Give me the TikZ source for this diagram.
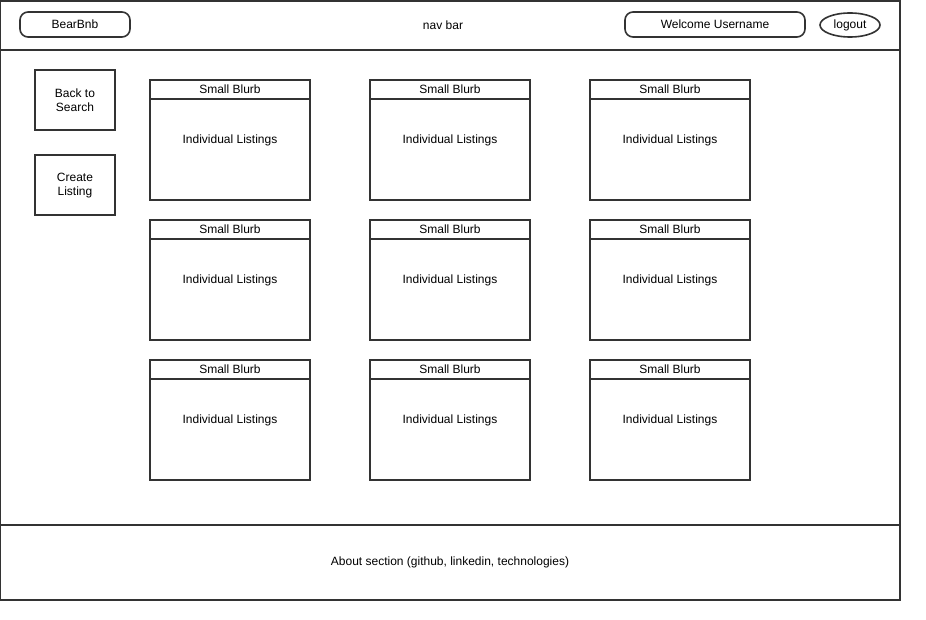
\documentclass[tikz,border=0pt]{standalone}
\usepackage{fontspec}
\setmainfont{Liberation Sans}
\usetikzlibrary{shapes.geometric}
\definecolor{ink}{HTML}{333333}
\begin{document}
\begin{tikzpicture}[x=1pt,y=-1pt,
  every node/.style={font=\fontsize{12}{14}\selectfont, text=black},
  frame/.style={draw=ink, line width=2pt},
  pill/.style={draw=ink, line width=1.6pt, rounded corners=8pt, inner sep=0pt},
  sidebtn/.style={draw=ink, line width=2pt, minimum width=80pt, minimum height=60pt, inner sep=0pt, align=center, font=\fontsize{12}{14}\selectfont},
  card/.style={draw=ink, line width=2pt, minimum width=160pt, minimum height=120pt, inner sep=0pt},
  lbl/.style={inner sep=0pt}
]
\useasboundingbox (0,0) rectangle (926,620);
\fill[white] (0,0) rectangle (926,620);
% outer frame
\draw[frame] (0,1) rectangle (900,600);
\draw[frame] (0,50) -- (900,50);
\draw[frame] (0,525) -- (900,525);
% nav bar
\node[pill, minimum width=110pt, minimum height=25pt] (brand) at (75,24.5) {BearBnb};
\node[lbl] (nav) at (443,25.5) {nav bar};
\node[pill, minimum width=180pt, minimum height=25pt] (welcome) at (715,24.5) {Welcome Username};
\node[ellipse, draw=ink, line width=1.6pt, minimum width=60pt, minimum height=24pt, inner sep=0pt] (logout) at (850,25) {logout};
% side buttons
\node[sidebtn] (back) at (75,100) {};
\node[lbl, align=center] (backtxt) at (75,100.5) {Back to\\Search};
\node[sidebtn] (create) at (75,185) {};
\node[lbl, align=center] (createtxt) at (75,185.5) {Create\\Listing};
% cards
\foreach \c/\x in {1/230,2/450,3/670}{
  \foreach \r/\y in {1/140,2/280,3/420}{
    \node[card] (card\c\r) at (\x,\y) {};
    \draw[frame] ([yshift=-20pt]card\c\r.north west) -- ([yshift=-20pt]card\c\r.north east);
    \node[lbl] (blurb\c\r) at ([yshift=-10.5pt]card\c\r.north) {Small Blurb};
    \node[lbl] (list\c\r) at (\x,\y+0.5) {Individual Listings};
  }
}
% footer
\node[lbl] (about) at (450,562.5) {About section (github, linkedin, technologies)};
\end{tikzpicture}
\end{document}
